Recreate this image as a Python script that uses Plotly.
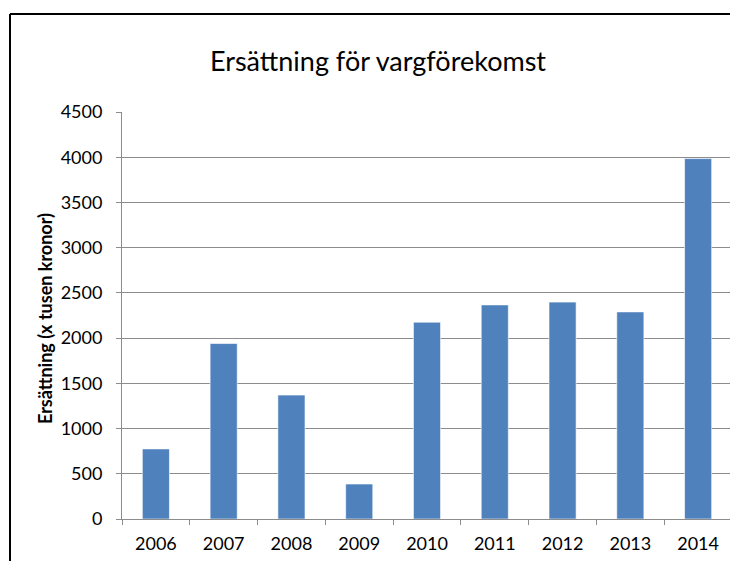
import plotly.graph_objects as go

# ---------------------------------------------------------------------------
# Data
# ---------------------------------------------------------------------------
years = ["2006", "2007", "2008", "2009", "2010", "2011", "2012", "2013", "2014"]
ersattning = [775, 1940, 1370, 387, 2176, 2367, 2398, 2290, 3985]

y_ticks = [0, 500, 1000, 1500, 2000, 2500, 3000, 3500, 4000, 4500]

_P = {
    "bar": "#4F81BD",
    "grid": "#8c8c8c",
    "text": "#000000",
}
FONT = "Lato, Calibri, 'Open Sans', sans-serif"

# page body has an 8px margin: work in figure coordinates = screen - 8
OFF = 8
W, H = 738 - OFF, 561 - OFF
PL, PR, PT, PB = 122 - OFF, 732 - OFF, 112 - OFF, 519 - OFF   # plot area
PW, PH = PR - PL, PB - PT


def px(x):
    return (x - OFF - PL) / PW


def py(y):
    return (PB - (y - OFF)) / PH


fig = go.Figure(
    go.Bar(
        x=years,
        y=ersattning,
        marker=dict(color=_P["bar"], line=dict(color="rgba(255,255,255,0.6)", width=1)),
        hovertemplate="%{x}: %{y}<extra></extra>",
    )
)

fig.update_layout(
    width=W,
    height=H,
    paper_bgcolor="white",
    plot_bgcolor="white",
    font=dict(family=FONT, color=_P["text"], size=18),
    title=dict(
        text="Ersättning för vargförekomst",
        font=dict(size=27, family=FONT),
        x=((208 + 548) / 2 - OFF) / W,
        xanchor="center",
        y=1 - (62 - OFF) / H,
        yanchor="middle",
    ),
    margin=dict(l=PL, r=W - PR, t=PT, b=H - PB),
    bargap=0.6,
    showlegend=False,
    xaxis=dict(
        showline=True,
        linecolor=_P["grid"],
        linewidth=1,
        ticks="outside",
        tickson="boundaries",
        ticklen=5,
        tickcolor=_P["grid"],
        showgrid=False,
        tickfont=dict(size=18),
        ticklabelstandoff=8,
    ),
    yaxis=dict(
        range=[0, 4500],
        tickvals=y_ticks,
        showline=True,
        linecolor=_P["grid"],
        linewidth=1,
        ticks="outside",
        ticklen=5,
        tickcolor=_P["grid"],
        showgrid=True,
        gridcolor=_P["grid"],
        gridwidth=1,
        zeroline=False,
        tickfont=dict(size=18),
        ticklabelstandoff=10,
    ),
    annotations=[
        dict(
            text="<b>Ersättning (x tusen kronor)</b>",
            textangle=-90,
            xref="paper",
            yref="paper",
            x=px(45),
            y=py(318),
            xanchor="center",
            yanchor="middle",
            showarrow=False,
            font=dict(size=18, family=FONT),
        )
    ],
    shapes=[
        # outer chart border (top, left, right visible in the reference)
        dict(type="line", xref="paper", yref="paper",
             x0=px(10), x1=px(736), y0=py(14), y1=py(14),
             line=dict(color="black", width=2)),
        dict(type="line", xref="paper", yref="paper",
             x0=px(10), x1=px(10), y0=py(14), y1=py(600),
             line=dict(color="black", width=2)),
        dict(type="line", xref="paper", yref="paper",
             x0=px(736), x1=px(736), y0=py(14), y1=py(600),
             line=dict(color="black", width=2)),
    ],
)

fig.write_html("out.html")
